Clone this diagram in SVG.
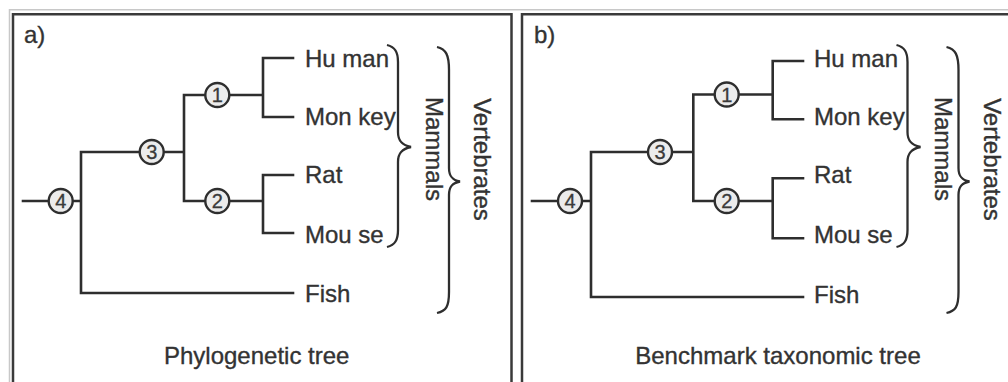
<svg xmlns="http://www.w3.org/2000/svg" width="1008" height="382" viewBox="0 0 1008 382">
<style>
.frame{fill:none;stroke:#c8c8c8;stroke-width:1.5}
.panel{fill:none;stroke:#3a3a3a;stroke-width:2.5}
.ln{fill:none;stroke:#2e2e2e;stroke-width:2.6;stroke-linecap:square}
.br{fill:none;stroke:#2e2e2e;stroke-width:2.3}
.nd{fill:#ececec;stroke:#2e2e2e;stroke-width:2.4}
.t{font-family:"Liberation Sans",Arial,sans-serif;font-size:24px;fill:#333;stroke:#333;stroke-width:0.35}
.n{font-family:"Liberation Sans",Arial,sans-serif;font-size:20px;fill:#3a3a3a;stroke:#3a3a3a;stroke-width:0.3;text-anchor:middle}
</style>
<rect width="1008" height="382" fill="#fff"/>
<rect class="frame" x="9.5" y="9.75" width="1010" height="400"/>
<rect class="panel" x="13" y="14.25" width="498.5" height="400"/>
<rect class="panel" x="522" y="14.25" width="500" height="400"/>

<!-- Panel a -->
<g id="panel-a">
<text class="t" x="24" y="43">a)</text>
<g id="a-connectors">
<path class="ln" d="M23,201 H49 M72.5,201 H81 M81,152 V293 M81,152 H140 M163.5,152 H184 M184,95 V201 M184,95 H205.5 M229,95 H263 M263,58 V117 M263,58 H293 M263,117 H293 M184,201 H205.5 M229,201 H263 M263,175 V233 M263,175 H293 M263,233 H293 M81,293 H293"/>
</g>
<g id="a-node1"><circle class="nd" cx="217.3" cy="95" r="12"/><text class="n" x="217.3" y="102">1</text></g>
<g id="a-node2"><circle class="nd" cx="217.3" cy="201" r="12"/><text class="n" x="217.3" y="208">2</text></g>
<g id="a-node3"><circle class="nd" cx="151.7" cy="152" r="12"/><text class="n" x="151.7" y="159">3</text></g>
<g id="a-node4"><circle class="nd" cx="60.7" cy="201" r="12"/><text class="n" x="60.7" y="208">4</text></g>
<g id="a-human"><text class="t" x="305" y="66.5">Hu man</text></g>
<g id="a-monkey"><text class="t" x="305" y="124.5">Mon key</text></g>
<g id="a-rat"><text class="t" x="305" y="183.3">Rat</text></g>
<g id="a-mouse"><text class="t" x="305" y="242.5">Mou se</text></g>
<g id="a-fish"><text class="t" x="305" y="301.7">Fish</text></g>
<g id="a-mammals">
<path class="br" d="M387,45 C395,47 398,52 398,62 L398,132 C398,140 401,145 411,147 C401,149 398,154 398,162 L398,230 C398,240 395,245 387,247"/>
<text class="t" transform="translate(425.5,149) rotate(90)" text-anchor="middle">Mammals</text>
</g>
<g id="a-vertebrates">
<path class="br" d="M437,47 C446,49 449,55 449,70 L449,168 C449,176 452,180 460,181.5 C452,183 449,187 449,195 L449,292 C449,307 446,311 437,313"/>
<text class="t" transform="translate(474,159.5) rotate(90)" text-anchor="middle">Vertebrates</text>
</g>
<text class="t" x="256.7" y="364" text-anchor="middle">Phylogenetic tree</text>
</g>

<!-- Panel b -->
<g id="panel-b">
<text class="t" x="534" y="43">b)</text>
<g id="b-connectors">
<path class="ln" d="M532,201 H558 M581.5,201 H591 M591,152 V297 M591,152 H648 M671.5,152 H693.3 M693.3,94.5 V201 M693.3,94.5 H714.5 M738,94.5 H772.7 M772.7,61 V119.3 M772.7,61 H803 M772.7,119.3 H803 M693.3,201 H714.5 M738,201 H772.7 M772.7,178.3 V238.3 M772.7,178.3 H803 M772.7,238.3 H803 M591,297 H803"/>
</g>
<g id="b-node1"><circle class="nd" cx="726.7" cy="94.5" r="12"/><text class="n" x="726.7" y="101.5">1</text></g>
<g id="b-node2"><circle class="nd" cx="726.7" cy="201" r="12"/><text class="n" x="726.7" y="208">2</text></g>
<g id="b-node3"><circle class="nd" cx="660" cy="152" r="12"/><text class="n" x="660" y="159">3</text></g>
<g id="b-node4"><circle class="nd" cx="570" cy="201" r="12"/><text class="n" x="570" y="208">4</text></g>
<g id="b-human"><text class="t" x="814" y="66.5">Hu man</text></g>
<g id="b-monkey"><text class="t" x="814" y="124.5">Mon key</text></g>
<g id="b-rat"><text class="t" x="814" y="183.3">Rat</text></g>
<g id="b-mouse"><text class="t" x="814" y="242.5">Mou se</text></g>
<g id="b-fish"><text class="t" x="814" y="302.5">Fish</text></g>
<g id="b-mammals">
<path class="br" d="M896.5,45 C904.5,47 907.5,52 907.5,62 L907.5,132 C907.5,140 910.5,145 920.5,147 C910.5,149 907.5,154 907.5,162 L907.5,230 C907.5,240 904.5,245 896.5,247"/>
<text class="t" transform="translate(935,149) rotate(90)" text-anchor="middle">Mammals</text>
</g>
<g id="b-vertebrates">
<path class="br" d="M946.5,47 C955.5,49 958.5,55 958.5,70 L958.5,168 C958.5,176 961.5,180 969.5,181.5 C961.5,183 958.5,187 958.5,195 L958.5,292 C958.5,307 955.5,311 946.5,313"/>
<text class="t" transform="translate(983.5,159.5) rotate(90)" text-anchor="middle">Vertebrates</text>
</g>
<text class="t" x="778" y="364" text-anchor="middle">Benchmark taxonomic tree</text>
</g>
</svg>
